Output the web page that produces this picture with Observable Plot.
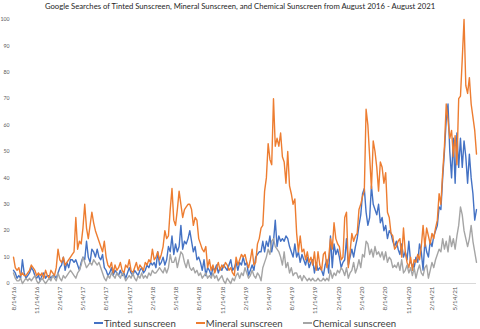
<!DOCTYPE html>
<html>
<head>
<meta charset="utf-8">
<script src="https://cdn.jsdelivr.net/npm/d3@7"></script>
<script src="https://cdn.jsdelivr.net/npm/@observablehq/plot@0.6"></script>
<style>
  html, body { margin: 0; padding: 0; background: #fff; }
  body { width: 480px; height: 329px; overflow: hidden; font-family: Lato, "Open Sans", sans-serif; }
  #title { height: 14px; line-height: 12px; text-align: center; font-size: 7.7px; color: #262626; white-space: nowrap; }
  #chart svg { display: block; }
  #legend { display: flex; justify-content: center; align-items: center; height: 12px; font-size: 9.6px; color: #404040; margin-left: 10px; }
  #legend .item { display: flex; align-items: center; margin: 0 10px; }
  #legend .sw { width: 9px; height: 1.5px; margin-right: 1px; }
</style>
</head>
<body>
<div id="title">Google Searches of Tinted Sunscreen, Mineral Sunscreen, and Chemical Sunscreen from August 2016 - August 2021</div>
<div id="chart"></div>
<div id="legend"></div>
<script>
const seriesNames = ["Tinted sunscreen", "Mineral sunscreen", "Chemical sunscreen"];
const seriesColors = ["#4472C4", "#ED7D31", "#A5A5A5"];
const startDate = "2016-08-14";
const endDate = "2021-08-08";
const yTicks = [0, 10, 20, 30, 40, 50, 60, 70, 80, 90, 100];
const xTickDates = ["2016-08-14","2016-11-14","2017-02-14","2017-05-14","2017-08-14","2017-11-14","2018-02-14","2018-05-14","2018-08-14","2018-11-14","2019-02-14","2019-05-14","2019-08-14","2019-11-14","2020-02-14","2020-05-14","2020-08-14","2020-11-14","2021-02-14","2021-05-14"];

const tinted = [
5,4,2,3,2,9,4,2,3,4,
6,5,3,2,3,1,3,4,2,3,
3,2,3,3,2,4,6,7,10,5,
8,6,9,9,8,9,7,5,8,10,
9,16,10,8,13,12,10,13,10,9,
11,6,5,3,4,6,3,5,4,3,
5,3,4,2,4,6,4,3,5,4,
3,5,6,4,5,7,6,8,7,8,
6,12,7,8,10,7,9,14,12,18,
11,15,12,14,22,13,16,15,17,20,
16,12,14,9,10,8,5,9,3,6,
5,3,6,5,7,4,6,5,7,6,
5,7,9,5,6,8,5,8,7,10,
7,8,3,5,7,5,10,11,12,12,
16,12,16,14,18,12,16,24,14,18,
16,17,16,18,17,14,12,10,15,10,
12,8,11,9,7,10,6,8,9,4,
8,5,6,5,3,7,9,4,18,6,
15,11,13,10,6,8,9,17,7,10,
13,10,14,17,22,26,34,36,27,22,
25,37,30,28,26,30,23,25,20,22,
17,20,19,16,14,16,13,11,15,10,
12,9,16,8,7,6,10,8,15,12,
5,16,12,10,16,14,18,20,22,29,
28,40,50,62,68,50,40,55,38,57,
44,55,44,54,48,38,49,40,34,24,28
];

const mineral = [
10,6,5,6,3,4,3,3,4,5,
7,6,5,3,4,3,4,2,5,3,
2,5,4,3,6,13,9,8,10,7,
8,9,10,11,12,25,13,16,15,21,
30,21,17,22,27,23,20,18,16,14,
12,16,10,7,6,8,4,7,5,6,
8,5,4,7,6,9,5,4,6,8,
5,7,6,5,8,7,9,8,13,9,
10,12,9,11,14,20,17,18,28,36,
24,22,28,35,30,25,28,29,30,30,
28,22,25,24,17,15,13,12,14,6,
9,5,7,4,6,8,5,7,6,8,
7,5,6,4,3,10,7,9,11,10,
11,8,6,9,13,7,8,15,17,21,
22,35,40,53,47,45,70,52,55,52,
57,48,46,38,50,37,34,30,32,19,
12,18,12,13,9,12,8,10,7,12,
5,12,7,5,11,12,6,10,17,13,
23,17,15,14,9,10,25,27,6,12,
19,16,18,19,28,30,33,35,66,60,
48,36,54,50,44,35,46,44,38,42,
27,25,19,18,13,14,16,17,10,21,
12,8,6,10,5,9,8,11,9,14,
22,14,21,18,15,19,17,21,24,34,
30,42,52,68,62,55,58,48,56,45,
70,71,85,100,75,72,78,68,63,58,49
];

const chemical = [
4,2,1,1,2,0,1,2,1,2,
1,2,3,1,0,1,2,1,0,1,
2,1,3,2,1,4,2,1,3,2,
3,4,5,4,3,2,4,5,7,10,
8,6,7,8,7,9,8,7,8,6,
4,2,1,3,2,4,3,2,4,3,
2,4,3,1,2,3,2,4,2,1,
3,2,4,2,3,2,4,3,5,4,
4,5,6,5,4,6,4,6,11,8,
8,10,6,9,12,11,8,6,9,6,
5,6,4,5,3,4,2,3,4,2,
3,2,4,2,3,1,2,3,1,0,
2,1,0,2,1,3,4,2,4,3,
6,4,2,3,5,3,2,4,3,1,
6,8,10,13,11,16,17,14,13,12,
10,7,12,6,8,4,6,3,4,4,
2,3,1,3,2,1,2,1,2,1,
1,2,1,1,2,1,2,1,5,2,
4,3,5,4,6,5,3,6,2,4,
5,8,4,6,9,6,11,10,16,15,
11,13,10,14,11,12,10,12,9,12,
8,10,9,6,7,6,8,5,9,4,
5,7,4,6,3,6,2,5,7,4,
3,6,7,2,5,8,6,9,11,13,
12,17,13,16,12,18,14,17,13,18,
22,29,26,20,17,14,17,22,16,12,8
];

const start = new Date(startDate);
const seriesValues = [tinted, mineral, chemical];
const table = [];
seriesNames.forEach((name, s) => {
  seriesValues[s].forEach((v, i) => {
    table.push({series: name, date: d3.utcDay.offset(start, 7 * i), value: v});
  });
});

const fmt = d3.utcFormat("%-m/%-d/%y");
const chart = Plot.plot({
  width: 480,
  height: 303,
  marginTop: 5,
  marginBottom: 34,
  marginLeft: 13,
  marginRight: 4,
  style: {fontFamily: "Lato, 'Open Sans', sans-serif", background: "#fff"},
  x: {type: "utc", domain: [start, new Date(endDate)]},
  y: {domain: [0, 100]},
  color: {domain: seriesNames, range: seriesColors},
  marks: [
    Plot.ruleY([0], {stroke: "#d9d9d9", strokeWidth: 1}),
    Plot.axisY({ticks: yTicks, tickSize: 0, tickPadding: 4, fontSize: 5.2, color: "#595959", label: null}),
    Plot.axisX({ticks: xTickDates.map(d => new Date(d)), tickFormat: fmt, tickRotate: -90, tickSize: 0, tickPadding: 3, fontSize: 6.3, color: "#595959", label: null}),
    Plot.lineY(table, {x: "date", y: "value", z: "series", stroke: "series", strokeWidth: 1.4})
  ]
});
document.getElementById("chart").appendChild(chart);

const legend = document.getElementById("legend");
seriesNames.forEach((name, i) => {
  const item = document.createElement("div");
  item.className = "item";
  const sw = document.createElement("span");
  sw.className = "sw";
  sw.style.background = seriesColors[i];
  const t = document.createElement("span");
  t.textContent = name;
  item.appendChild(sw);
  item.appendChild(t);
  legend.appendChild(item);
});
</script>
</body>
</html>
